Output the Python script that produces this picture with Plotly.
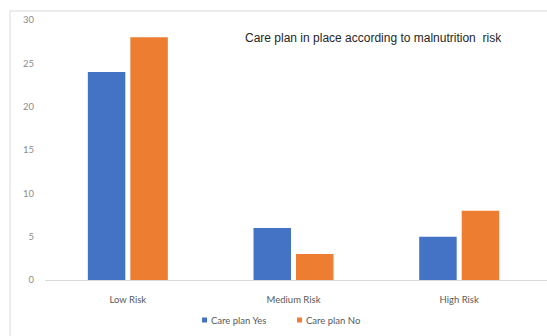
import plotly.graph_objects as go

# Malnutrition risk groups and counts of residents with / without a care plan
categories = ["Low Risk", "Medium Risk", "High Risk"]
series_names = ["Care plan Yes", "Care plan No"]
care_plan_yes = [24, 6, 5]
care_plan_no = [28, 3, 8]
y_ticks = [0, 5, 10, 15, 20, 25, 30]
colors = ["#4472C4", "#ED7D31"]

W, H = 547, 336
ML, MR, MT, MB = 45, 0, 20, 56
pw, ph = W - ML - MR, H - MT - MB


def px_x(p):
    return (p - ML) / pw


def px_y(p):
    return (H - MB - p) / ph


fig = go.Figure()
for name, vals, col in zip(series_names, [care_plan_yes, care_plan_no], colors):
    fig.add_trace(go.Bar(name=name, x=categories, y=vals,
                         marker=dict(color=col, line=dict(width=0))))

fig.update_layout(
    width=W, height=H,
    margin=dict(l=ML, r=MR, t=MT, b=MB, pad=0),
    paper_bgcolor="white", plot_bgcolor="white",
    barmode="group", bargap=0.487, bargroupgap=0.118,
    font=dict(family="Lato, Liberation Sans, sans-serif", size=10, color="#595959"),
    xaxis=dict(range=[-0.5, 2.53], showgrid=False, zeroline=False,
               showline=False, ticks="", ticklabelstandoff=12,
               tickfont=dict(size=9.5, color="#595959")),
    yaxis=dict(range=[0, 30], tickvals=y_ticks, showgrid=False,
               zeroline=True, zerolinecolor="#d9d9d9", zerolinewidth=1,
               showline=False, ticks="", ticklabelstandoff=10,
               tickfont=dict(size=9.5, color="#8c8c8c")),
    showlegend=False,
)

# Chart frame
fig.add_shape(type="rect", xref="paper", yref="paper",
              x0=px_x(10), x1=px_x(560), y0=px_y(350), y1=px_y(11),
              line=dict(color="#d9d9d9", width=1), fillcolor="rgba(0,0,0,0)",
              layer="below")

# Legend: small colour keys followed by series names
legend_keys = [202, 297]
for name, col, kx in zip(series_names, colors, legend_keys):
    fig.add_shape(type="rect", xref="paper", yref="paper",
                  x0=px_x(kx), x1=px_x(kx + 5), y0=px_y(322.5), y1=px_y(317.5),
                  line=dict(width=0), fillcolor=col)
    fig.add_annotation(text=name, xref="paper", yref="paper",
                       x=px_x(kx + 7), y=px_y(320), xanchor="left", yanchor="middle",
                       showarrow=False, font=dict(size=9.5, color="#595959"))

fig.add_annotation(text="Care plan in place according to malnutrition  risk",
                   xref="paper", yref="paper", x=px_x(373), y=px_y(38),
                   xanchor="center", yanchor="middle", showarrow=False,
                   font=dict(family="Liberation Sans, Arial, sans-serif",
                             size=12, color="#262626"))

fig.write_html("out.html")
